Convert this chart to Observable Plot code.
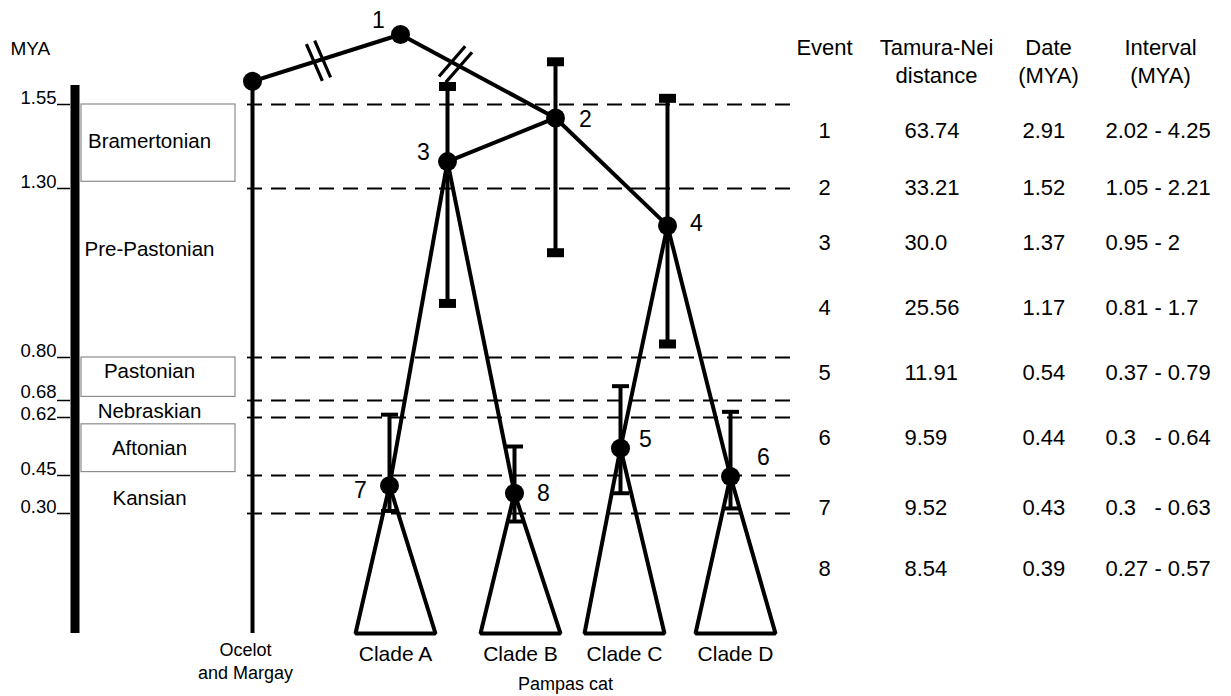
<!DOCTYPE html>
<html><head><meta charset="utf-8">
<script src="https://cdn.jsdelivr.net/npm/d3@7"></script>
<script src="https://cdn.jsdelivr.net/npm/@observablehq/plot@0.6"></script>
<style>
html,body{margin:0;padding:0;background:#fff;}
#chart{position:relative;width:1231px;height:696px;overflow:hidden;background:#fff;}
#chart svg{position:absolute;left:0;top:0;}
#chart svg text{white-space:pre;}
</style></head><body><div id="chart"></div>
<script>
// ---------- data ----------
const tickValues = [1.55, 1.30, 0.80, 0.68, 0.62, 0.45, 0.30];
const tickLabels = ["1.55", "1.30", "0.80", "0.68", "0.62", "0.45", "0.30"];

const stageNames = ["Bramertonian", "Pre-Pastonian", "Pastonian", "Nebraskian", "Aftonian", "Kansian"];
const stageLabelMya = [1.44, 1.12, 0.76, 0.64, 0.53, 0.36];

const boxedStageNames = ["Bramertonian", "Pastonian", "Aftonian"];
const boxedStageTop = [1.55, 0.80, 0.60];
const boxedStageBottom = [1.32, 0.69, 0.46];

const timelineTop = 1.92;

// tree nodes: layout column position and drawn age (MYA)
const nodeNames = ["root", "1", "2", "3", "4", "5", "6", "7", "8"];
const nodeX     = [252, 400, 555, 447, 667, 620, 730, 389, 514];
const nodeMya   = [2.00, 2.91, 1.51, 1.38, 1.19, 0.53, 0.446, 0.41, 0.38];
const barLow    = [null, null, 1.11, 0.96, 0.84, 0.38, 0.32, 0.31, 0.28];
const barHigh   = [null, null, 2.38, 1.90, 1.67, 0.72, 0.64, 0.63, 0.535];
const branchFrom = ["root", "1", "2", "2", "3", "3", "4", "4"];
const branchTo   = ["1",    "2", "3", "4", "7", "8", "5", "6"];

const breakX   = [318, 455];
const breakMya = [2.40, 2.33];

const cladeNames = ["Clade A", "Clade B", "Clade C", "Clade D"];
const cladeTipX  = [395, 520, 624, 735];
const cladeNode  = ["7", "8", "5", "6"];

// table
const tableColumns = ["Event", "Tamura-Nei\ndistance", "Date\n(MYA)", "Interval\n(MYA)"];
const events    = [1, 2, 3, 4, 5, 6, 7, 8];
const distances = ["63.74", "33.21", "30.0", "25.56", "11.91", "9.59", "9.52", "8.54"];
const dates     = ["2.91", "1.52", "1.37", "1.17", "0.54", "0.44", "0.43", "0.39"];
const intervals = ["2.02 - 4.25", "1.05 - 2.21", "0.95 - 2", "0.81 - 1.7", "0.37 - 0.79", "0.3   - 0.64", "0.3   - 0.63", "0.27 - 0.57"];

// ---------- layout / style ----------
const FONT = "'Liberation Sans', Arial, Helvetica, sans-serif";
const W = 1231, H = 696;
const yStops  = [0, 0.30, 0.45, 0.62, 0.68, 0.80, 1.30, 1.55, 2.91];
const yPixels = [633, 513, 475, 417, 400, 357, 188, 104, 34];
const rowPixels = [130, 187, 242, 307, 372, 437, 507, 568];
const L = {barX: 74.5, tickX1: 57, tickX2: 70, tickLabelX: 56, boxX1: 81, boxX2: 235, stageX: 149,
           ruleX1: 247, ruleX2: 795, cladeHalf: 40};
const labelOffset = {"1": [-22, -14], "2": [30, 2], "3": [-24, -9], "4": [29, -2],
                     "5": [25, -9], "6": [33, -19], "7": [-29, 5], "8": [29, 0]};
const tickLabelDy = {"0.68": -3, "0.62": 2};
const bigCapNodes = ["2", "3", "4"];
const SW = 4;

const rectSymbol = (w, h) => ({draw(ctx) {
  ctx.moveTo(-w / 2, -h / 2); ctx.lineTo(w / 2, -h / 2); ctx.lineTo(w / 2, h / 2); ctx.lineTo(-w / 2, h / 2); ctx.closePath();
}});
const breakSymbol = (deg) => ({draw(ctx) {
  const a = deg * Math.PI / 180, len = 20, s = 4.5;
  const ux = Math.cos(a), uy = Math.sin(a), px = -uy, py = ux;
  for (const o of [-s, s]) { ctx.moveTo(o * px - len * ux, o * py - len * uy); ctx.lineTo(o * px + len * ux, o * py + len * uy); }
}});

// ---------- derived tables ----------
const nodes = nodeNames.map((name, i) => ({name, x: nodeX[i], y: nodeMya[i], low: barLow[i], high: barHigh[i]}));
const byName = Object.fromEntries(nodes.map(n => [n.name, n]));
const links = branchFrom.map((a, i) => ({a: byName[a], b: byName[branchTo[i]]}));
const bars = nodes.filter(n => n.low != null);
const caps = bars.flatMap(b => [{name: b.name, x: b.x, y: b.low}, {name: b.name, x: b.x, y: b.high}]);
const stages = stageNames.map((name, i) => ({name, mya: stageLabelMya[i]}));
const boxes = boxedStageNames.map((name, i) => ({name, top: boxedStageTop[i], bottom: boxedStageBottom[i]}));
const ticks = tickValues.map((v, i) => ({v, label: tickLabels[i]}));
const tri = cladeNames.flatMap((c, i) => {
  const n = byName[cladeNode[i]], t = cladeTipX[i];
  return [{c, x: n.x, y: n.y}, {c, x: t - L.cladeHalf, y: 0}, {c, x: t + L.cladeHalf, y: 0}, {c, x: n.x, y: n.y}];
});
const clades = cladeNames.map((name, i) => ({name, x: cladeTipX[i]}));
const pampasX = (cladeTipX[0] + cladeTipX[cladeTipX.length - 1]) / 2;

const stroke = "#000";
const tree = Plot.plot({
  width: W, height: H, margin: 0,
  style: {background: "transparent", fontFamily: FONT, overflow: "visible", color: "#000"},
  x: {type: "linear", domain: [0, W], range: [0, W], axis: null},
  y: {type: "linear", domain: yStops, range: yPixels, axis: null},
  marks: [
    Plot.ruleY(tickValues, {x1: L.ruleX1, x2: L.ruleX2, stroke, strokeWidth: 1.8, strokeDasharray: "15,9"}),
    Plot.ruleX([timelineTop], {x: L.barX, y1: 0, y2: d => d, stroke, strokeWidth: 9}),
    Plot.ruleY(tickValues, {x1: L.tickX1, x2: L.tickX2, stroke, strokeWidth: 1.5}),
    Plot.rect(boxes, {x1: L.boxX1, x2: L.boxX2, y1: "bottom", y2: "top", fill: "white", stroke: "#8c8c8c", strokeWidth: 1.2}),
    Plot.text(stages, {x: L.stageX, y: "mya", text: "name", fontSize: 20.5, fill: "#000"}),
    ...ticks.map(t => Plot.text([t], {x: L.tickLabelX, y: "v", text: "label", textAnchor: "end", lineAnchor: "bottom",
      dy: tickLabelDy[t.label] ?? -1, fontSize: 18.5, fill: "#000"})),
    Plot.text(["MYA"], {frameAnchor: "top-left", dx: 10, dy: 48, textAnchor: "start", lineAnchor: "middle", fontSize: 19, fill: "#000"}),
    Plot.link(links, {x1: d => d.a.x, y1: d => d.a.y, x2: d => d.b.x, y2: d => d.b.y, stroke, strokeWidth: SW}),
    Plot.ruleX([byName.root], {x: "x", y1: "y", y2: 0, stroke, strokeWidth: SW}),
    Plot.line(tri, {x: "x", y: "y", z: "c", stroke, strokeWidth: SW, strokeLinejoin: "miter"}),
    Plot.ruleX(bars, {x: "x", y1: "low", y2: "high", stroke, strokeWidth: SW}),
    Plot.dot(caps.filter(c => bigCapNodes.includes(c.name)), {x: "x", y: "y", symbol: rectSymbol(17, 9), fill: stroke, stroke: null}),
    Plot.dot(caps.filter(c => !bigCapNodes.includes(c.name)), {x: "x", y: "y", symbol: rectSymbol(17, 4), fill: stroke, stroke: null}),
    Plot.dot([{x: breakX[0], y: breakMya[0]}], {x: "x", y: "y", symbol: breakSymbol(66.5), fill: "none", stroke, strokeWidth: 3.2}),
    Plot.dot([{x: breakX[1], y: breakMya[1]}], {x: "x", y: "y", symbol: breakSymbol(-49), fill: "none", stroke, strokeWidth: 3.2}),
    Plot.dot(nodes, {x: "x", y: "y", r: 9.5, fill: stroke, stroke: null}),
    ...nodes.filter(n => n.name !== "root").map(n =>
      Plot.text([n], {x: "x", y: "y", text: "name", dx: labelOffset[n.name][0], dy: labelOffset[n.name][1], fontSize: 23, fill: "#000"})),
    Plot.text(clades, {x: "x", y: () => 0, text: "name", dy: 21, fontSize: 21, fill: "#000"}),
    Plot.text(["Ocelot\nand Margay"], {x: byName.root.x, y: () => 0, dx: -7, dy: 27, lineHeight: 1.28, fontSize: 18, fill: "#000"}),
    Plot.text(["Pampas cat"], {x: pampasX, y: () => 0, dy: 51, fontSize: 18, fill: "#000"})
  ]
});

const table = Plot.plot({
  width: W, height: H, margin: 0,
  style: {background: "transparent", fontFamily: FONT, overflow: "visible", color: "#000"},
  x: {type: "point", domain: tableColumns, range: [823, 1160], padding: 0, axis: null},
  y: {type: "linear", domain: events, range: rowPixels, axis: null},
  marks: [
    Plot.text(tableColumns, {x: d => d, frameAnchor: "top", lineAnchor: "top", dy: 35, lineHeight: 1.25, fontSize: 22, fill: "#000"}),
    Plot.text(events, {x: () => tableColumns[0], y: d => d, text: d => String(d), fontSize: 22, fill: "#000"}),
    Plot.text(events, {x: () => tableColumns[1], y: d => d, text: (d, i) => distances[i], textAnchor: "start", dx: -32, fontSize: 22, fill: "#000"}),
    Plot.text(events, {x: () => tableColumns[2], y: d => d, text: (d, i) => dates[i], textAnchor: "start", dx: -26, fontSize: 22, fill: "#000"}),
    Plot.text(events, {x: () => tableColumns[3], y: d => d, text: (d, i) => intervals[i], textAnchor: "start", dx: -55, fontSize: 22, fill: "#000"})
  ]
});

const root = document.getElementById("chart");
root.appendChild(tree);
root.appendChild(table);
</script></body></html>
